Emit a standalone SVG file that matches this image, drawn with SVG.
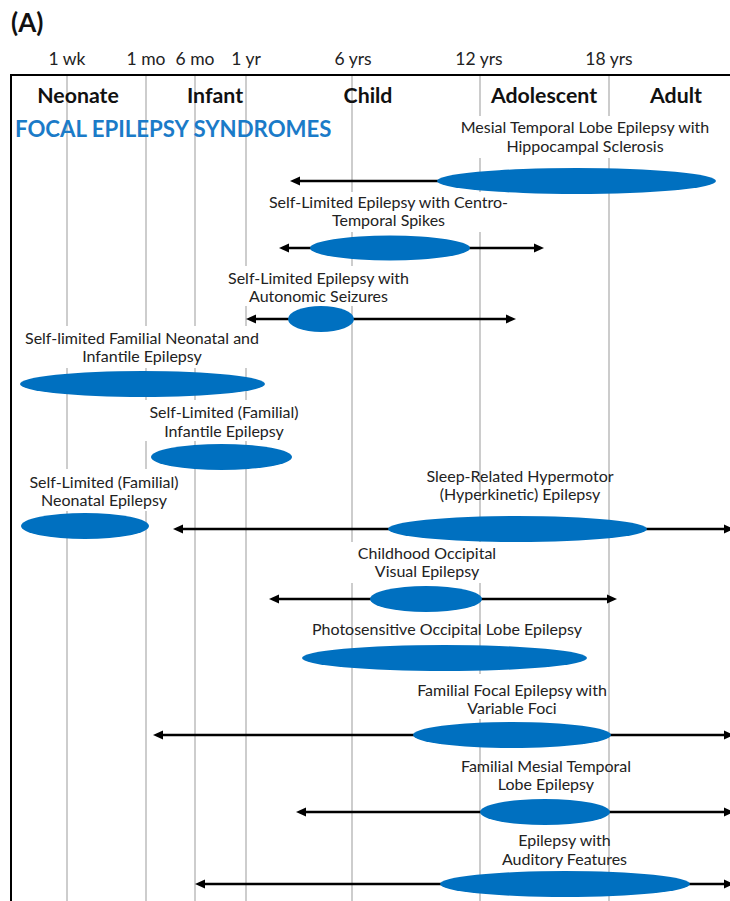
<svg xmlns="http://www.w3.org/2000/svg" width="730" height="901" viewBox="0 0 730 901">
  <defs>
    <style>
      .tick { font-family: Lato, "Liberation Sans", sans-serif; font-size: 17.5px; fill: #222; text-anchor: middle; }
      .period { font-family: Lato, "Liberation Sans", sans-serif; font-size: 21.3px; font-weight: bold; fill: #111; text-anchor: middle; }
      .lbl { font-family: Lato, "Liberation Sans", sans-serif; font-size: 16px; fill: #222; text-anchor: middle; }
      .grid { stroke: #bdbdbd; stroke-width: 1.5; }
      .frame { stroke: #000; stroke-width: 2; fill: none; }
      .bar { fill: #0070C0; }
      .cover { fill: #fff; }
      .arr { stroke: #000; stroke-width: 2.5; fill: none; }
      .both { marker-start: url(#head); marker-end: url(#head); }
      .left { marker-start: url(#head); }
    </style>
    <marker id="head" markerUnits="userSpaceOnUse" markerWidth="11" markerHeight="10" refX="4" refY="5" orient="auto-start-reverse">
      <path d="M0,0.5 L10,5 L0,9.5 Z" fill="#000"/>
    </marker>
  </defs>

  <rect width="730" height="901" fill="#fff"/>

  <!-- panel tag -->
  <text x="11" y="32" font-family="Lato, 'Liberation Sans', sans-serif" font-size="26" font-weight="bold" fill="#111">(A)</text>

  <!-- age axis labels -->
  <g id="axis-ticks">
    <text class="tick" x="67" y="65">1 wk</text>
    <text class="tick" x="146" y="65">1 mo</text>
    <text class="tick" x="195" y="65">6 mo</text>
    <text class="tick" x="246" y="65">1 yr</text>
    <text class="tick" x="353" y="65">6 yrs</text>
    <text class="tick" x="479" y="65">12 yrs</text>
    <text class="tick" x="609" y="65">18 yrs</text>
  </g>

  <!-- vertical age gridlines -->
  <g id="gridlines">
    <line class="grid" x1="67" y1="75" x2="67" y2="901"/>
    <line class="grid" x1="146" y1="75" x2="146" y2="901"/>
    <line class="grid" x1="195" y1="75" x2="195" y2="901"/>
    <line class="grid" x1="246" y1="75" x2="246" y2="901"/>
    <line class="grid" x1="352" y1="75" x2="352" y2="901"/>
    <line class="grid" x1="480" y1="75" x2="480" y2="901" style="stroke:#aaa;stroke-width:1.2"/>
    <line class="grid" x1="609" y1="75" x2="609" y2="901" style="stroke:#aaa;stroke-width:1.2"/>
  </g>

  <!-- frame -->
  <path class="frame" d="M11,901 V75 H730"/>

  <!-- life periods -->
  <g id="periods">
    <text class="period" x="78" y="103">Neonate</text>
    <text class="period" x="215" y="103">Infant</text>
    <text class="period" x="368" y="103">Child</text>
    <text class="period" x="544" y="103">Adolescent</text>
    <text class="period" x="676" y="103">Adult</text>
  </g>

  <text id="title" x="15" y="137" font-family="Lato, 'Liberation Sans', sans-serif" font-size="22.2" font-weight="bold" fill="#1B7BC8">FOCAL EPILEPSY SYNDROMES</text>

  <!-- label backdrops that mask the gridlines -->
  <g id="label-backdrops">
    <rect class="cover" x="445" y="116" width="273" height="42"/>
    <rect class="cover" x="262" y="192" width="253" height="40"/>
    <rect class="cover" x="225" y="266" width="187" height="40"/>
    <rect class="cover" x="18" y="326" width="248" height="42"/>
    <rect class="cover" x="142" y="400" width="163" height="41"/>
    <rect class="cover" x="22" y="469" width="164" height="42"/>
    <rect class="cover" x="345" y="542" width="160" height="41"/>
    <rect class="cover" x="412" y="674" width="193" height="45"/>
  </g>

  <!-- age-range arrows -->
  <g id="connectors">
    <line class="arr left" x1="296" y1="181" x2="576" y2="181"/>
    <line class="arr both" x1="285" y1="248" x2="538" y2="248"/>
    <line class="arr both" x1="252" y1="319" x2="510" y2="319"/>
    <line class="arr both" x1="179" y1="529" x2="728" y2="529"/>
    <line class="arr both" x1="275" y1="599" x2="611" y2="599"/>
    <line class="arr both" x1="159" y1="735" x2="728" y2="735"/>
    <line class="arr both" x1="302" y1="812" x2="728" y2="812"/>
    <line class="arr both" x1="201" y1="884" x2="728" y2="884"/>
  </g>

  <g id="mtle-hs">
    <text class="lbl" x="585" y="133">Mesial Temporal Lobe Epilepsy with</text>
    <text class="lbl" x="585" y="152">Hippocampal Sclerosis</text>
    <ellipse class="bar" cx="576.5" cy="181" rx="139.5" ry="13"/>
  </g>

  <g id="selects">
    <text class="lbl" x="388.5" y="208">Self-Limited Epilepsy with Centro-</text>
    <text class="lbl" x="388.5" y="226">Temporal Spikes</text>
    <ellipse class="bar" cx="390" cy="248" rx="80" ry="12.5"/>
  </g>

  <g id="seleas">
    <text class="lbl" x="318.5" y="284">Self-Limited Epilepsy with</text>
    <text class="lbl" x="318.5" y="302">Autonomic Seizures</text>
    <ellipse class="bar" cx="321" cy="319" rx="33" ry="13"/>
  </g>

  <g id="selfnie">
    <text class="lbl" x="142" y="344">Self-limited Familial Neonatal and</text>
    <text class="lbl" x="142" y="362">Infantile Epilepsy</text>
    <ellipse class="bar" cx="142.5" cy="384" rx="122.5" ry="13"/>
  </g>

  <g id="selie">
    <text class="lbl" x="224" y="418">Self-Limited (Familial)</text>
    <text class="lbl" x="224" y="437">Infantile Epilepsy</text>
    <ellipse class="bar" cx="221.5" cy="457" rx="70.5" ry="13"/>
  </g>

  <g id="selne">
    <text class="lbl" x="104" y="488">Self-Limited (Familial)</text>
    <text class="lbl" x="104" y="506">Neonatal Epilepsy</text>
    <ellipse class="bar" cx="85" cy="526" rx="64" ry="13"/>
  </g>

  <g id="she">
    <text class="lbl" x="520" y="482">Sleep-Related Hypermotor</text>
    <text class="lbl" x="520" y="500">(Hyperkinetic) Epilepsy</text>
    <ellipse class="bar" cx="517.5" cy="529" rx="129.5" ry="13"/>
  </g>

  <g id="cove">
    <text class="lbl" x="427" y="559">Childhood Occipital</text>
    <text class="lbl" x="427" y="577">Visual Epilepsy</text>
    <ellipse class="bar" cx="426" cy="599" rx="56" ry="13"/>
  </g>

  <g id="pole">
    <text class="lbl" x="447" y="635">Photosensitive Occipital Lobe Epilepsy</text>
    <ellipse class="bar" cx="444.5" cy="658" rx="142.5" ry="13"/>
  </g>

  <g id="ffevf">
    <text class="lbl" x="512" y="696">Familial Focal Epilepsy with</text>
    <text class="lbl" x="512" y="714">Variable Foci</text>
    <ellipse class="bar" cx="512" cy="735" rx="99" ry="13"/>
  </g>

  <g id="fmtle">
    <text class="lbl" x="546" y="772">Familial Mesial Temporal</text>
    <text class="lbl" x="546" y="790">Lobe Epilepsy</text>
    <ellipse class="bar" cx="545" cy="812" rx="65" ry="13"/>
  </g>

  <g id="eaf">
    <text class="lbl" x="564.5" y="846">Epilepsy with</text>
    <text class="lbl" x="564.5" y="865">Auditory Features</text>
    <ellipse class="bar" cx="565" cy="884" rx="125" ry="13"/>
  </g>
</svg>
